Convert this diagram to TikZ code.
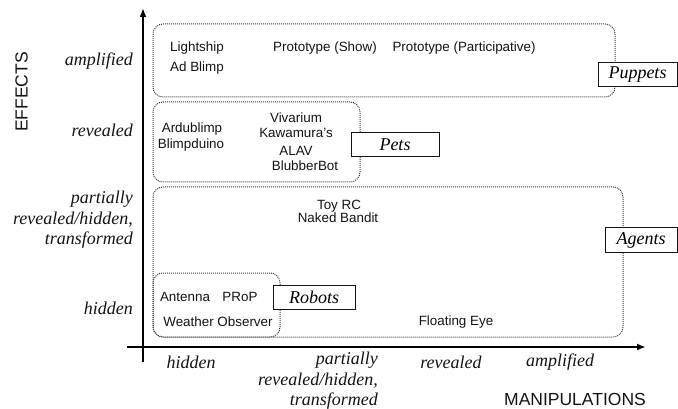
\documentclass[tikz,border=0pt]{standalone}
\usepackage{fontspec}
\setmainfont{Liberation Serif}
\setsansfont{Liberation Sans}
\usetikzlibrary{arrows.meta, positioning}
\definecolor{textdark}{RGB}{20, 20, 20}
\definecolor{dotgray}{RGB}{60, 60, 60}

\begin{document}
\begin{tikzpicture}[x=1pt, y=-1pt,
    item/.style={color=textdark, font=\sffamily\fontsize{13.4}{14}\selectfont, inner sep=0pt},
    level/.style={color=textdark, font=\itshape\fontsize{18}{20.5}\selectfont, align=right, inner sep=0pt},
    axistitle/.style={color=textdark, font=\sffamily\fontsize{17.5}{20}\selectfont, inner sep=0pt},
    group/.style={draw=dotgray, line width=1pt, dash pattern=on 1pt off 1pt, rounded corners=10pt},
    tag/.style={draw=textdark, fill=white, line width=1pt, font=\itshape\fontsize{18}{20}\selectfont, minimum height=24pt, inner sep=0pt}]
    \useasboundingbox (0,0) rectangle (678,409);

    % Axes
    \coordinate (ybot) at (143,362);
    \coordinate (ytop) at (143,8);
    \coordinate (xleft) at (127,347);
    \coordinate (xright) at (646,347);
    \draw[line width=2pt, -{Latex[length=9pt, width=7pt]}] (ybot) -- (ytop);
    \draw[line width=2pt, -{Latex[length=9pt, width=7pt]}] (xleft) -- (xright);
    \node (effects) at (21.5, 92) [axistitle, rotate=90] {EFFECTS};
    \node (manipulations) at (575, 399) [axistitle] {MANIPULATIONS};

    % Effects levels
    \node (yamp) at (133, 61) [level, anchor=east] {amplified};
    \node (yrev) at (133, 130) [level, anchor=east] {revealed};
    \node (ypart) at (133, 220) [level, anchor=east] {partially\\revealed/hidden,\\transformed};
    \node (yhid) at (133, 308) [level, anchor=east] {hidden};

    % Manipulation levels
    \node (xhid) at (191, 362) [level] {hidden};
    \node (xpart) at (378, 381) [level, anchor=east] {partially\\revealed/hidden,\\transformed};
    \node (xrev) at (451, 362) [level] {revealed};
    \node (xamp) at (560, 362) [level] {amplified};

    % Groups
    \draw[group] (153, 24) rectangle (615, 97);
    \draw[group] (153, 102) rectangle (360, 182);
    \draw[group] (153, 187) rectangle (623, 337);
    \draw[group] (153, 273) rectangle (280, 337);

    % Puppets
    \node (lightship) at (197, 48) [item] {Lightship};
    \node (adblimp) at (197, 68) [item] {Ad Blimp};
    \node (protoshow) at (325, 48) [item] {Prototype (Show)};
    \node (protopart) at (464, 48) [item] {Prototype (Participative)};
    \node (puppets) at (637.5, 75) [tag, minimum width=79pt] {Puppets};

    % Pets
    \node (ardublimp) at (192, 129) [item] {Ardublimp};
    \node (blimpduino) at (191, 145) [item] {Blimpduino};
    \node (vivarium) at (296, 118) [item] {Vivarium};
    \node (kawamura) at (296, 133) [item] {Kawamura's};
    \node (alav) at (296, 151) [item] {ALAV};
    \node (blubberbot) at (305, 166) [item] {BlubberBot};
    \node (pets) at (395, 145) [tag, minimum width=88pt] {Pets};

    % Agents
    \node (toyrc) at (339, 206) [item] {Toy RC};
    \node (nakedbandit) at (338, 218) [item] {Naked Bandit};
    \node (floatingeye) at (456, 322) [item] {Floating Eye};
    \node (agents) at (641, 240) [tag, minimum width=72pt] {Agents};

    % Robots
    \node (antenna) at (185, 297) [item] {Antenna};
    \node (prop) at (240, 297) [item] {PRoP};
    \node (weather) at (218, 322) [item] {Weather Observer};
    \node (robots) at (314, 297) [tag, minimum width=82pt] {Robots};
\end{tikzpicture}
\end{document}
